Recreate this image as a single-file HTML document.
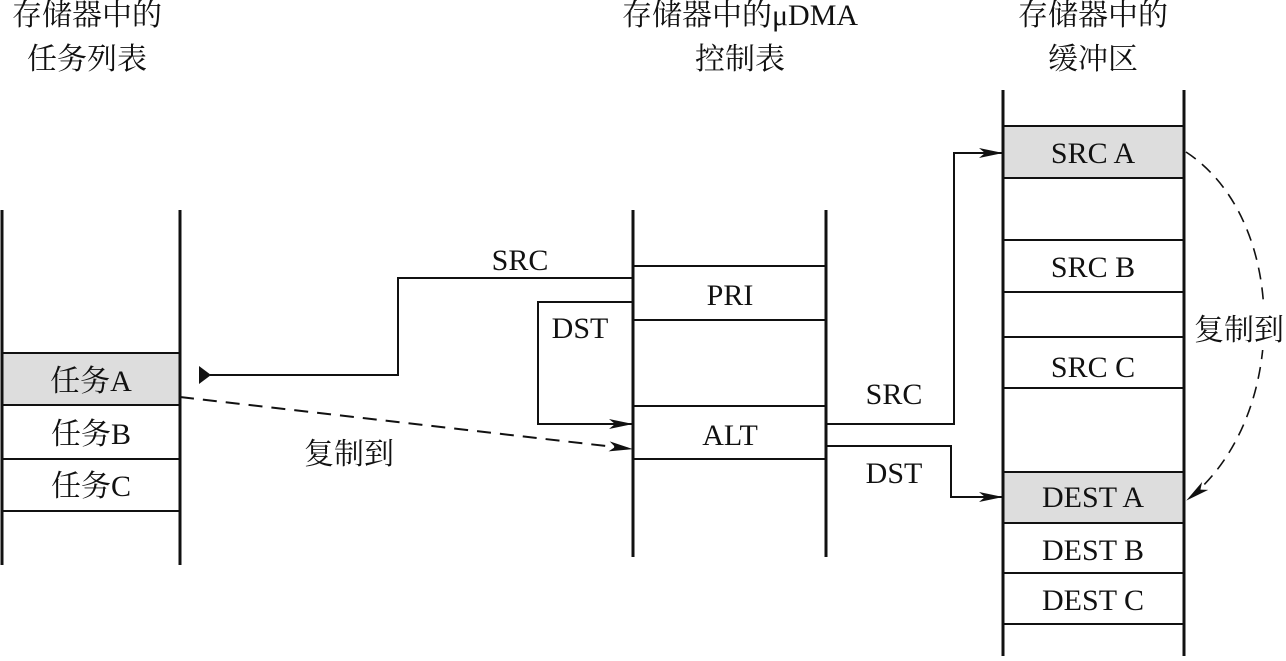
<!DOCTYPE html>
<html><head><meta charset="utf-8"><style>
body{margin:0;background:#fff;}
svg text{font-family:"Liberation Serif","Noto Serif CJK SC",serif;font-size:30px;fill:#111;}
</style></head><body>
<svg width="1286" height="656" viewBox="0 0 1286 656" xmlns="http://www.w3.org/2000/svg">
<defs>
<marker id="a" markerWidth="24" markerHeight="12" refX="23" refY="6" orient="auto" markerUnits="userSpaceOnUse">
<path d="M0,1 L24,6 L0,11 L6,6 Z" fill="#111"/></marker>
</defs>
<g stroke="#111" fill="none">
<rect x="2" y="353" width="178" height="52" fill="#ddd" stroke="none"/>
<line x1="2" y1="210" x2="2" y2="565" stroke-width="3"/>
<line x1="180" y1="210" x2="180" y2="565" stroke-width="3"/>
<g stroke-width="2"><line x1="2" y1="353" x2="180" y2="353"/><line x1="2" y1="405" x2="180" y2="405"/><line x1="2" y1="459" x2="180" y2="459"/><line x1="2" y1="511" x2="180" y2="511"/></g>
<line x1="633" y1="210" x2="633" y2="557" stroke-width="3"/>
<line x1="826" y1="210" x2="826" y2="557" stroke-width="3"/>
<g stroke-width="2"><line x1="633" y1="266" x2="826" y2="266"/><line x1="633" y1="320" x2="826" y2="320"/><line x1="633" y1="406" x2="826" y2="406"/><line x1="633" y1="459" x2="826" y2="459"/></g>
<rect x="1003" y="126" width="181" height="52" fill="#ddd" stroke="none"/>
<rect x="1003" y="472" width="181" height="51" fill="#ddd" stroke="none"/>
<line x1="1003" y1="90" x2="1003" y2="656" stroke-width="3"/>
<line x1="1184" y1="90" x2="1184" y2="656" stroke-width="3"/>
<g stroke-width="2">
<line x1="1003" y1="126" x2="1184" y2="126"/><line x1="1003" y1="178" x2="1184" y2="178"/>
<line x1="1003" y1="240" x2="1184" y2="240"/><line x1="1003" y1="292" x2="1184" y2="292"/>
<line x1="1003" y1="337" x2="1184" y2="337"/><line x1="1003" y1="388" x2="1184" y2="388"/>
<line x1="1003" y1="472" x2="1184" y2="472"/><line x1="1003" y1="523" x2="1184" y2="523"/>
<line x1="1003" y1="573" x2="1184" y2="573"/><line x1="1003" y1="624" x2="1184" y2="624"/>
</g>
<polyline points="633,278 398,278 398,375 210,375" stroke-width="2"/>
<path d="M199,366 L211,375 L199,384 Z" fill="#111" stroke="none"/>
<polyline points="633,302 538,302 538,424 632,424" stroke-width="2" marker-end="url(#a)"/>
<line x1="180" y1="397" x2="632" y2="449" stroke-width="2" stroke-dasharray="14,9" marker-end="url(#a)"/>
<polyline points="826,424 954,424 954,153 1002,153" stroke-width="2" marker-end="url(#a)"/>
<polyline points="826,446 951,446 951,497 1002,497" stroke-width="2" marker-end="url(#a)"/>
<path d="M1186,152 C1290,220 1290,420 1187,500" stroke-width="1.6" stroke-dasharray="12,8" marker-end="url(#a)"/>
</g>
<rect x="1192" y="306" width="94" height="44" fill="#fff"/>
<g text-anchor="middle">
<text x="87" y="25">存储器中的</text><text x="87" y="69">任务列表</text>
<text x="740" y="25">存储器中的μDMA</text><text x="740" y="69">控制表</text>
<text x="1093" y="25">存储器中的</text><text x="1093" y="69">缓冲区</text>
<text x="91" y="391">任务A</text><text x="91" y="444">任务B</text><text x="91" y="496">任务C</text>
<text x="730" y="305">PRI</text><text x="730" y="445">ALT</text>
<text x="1093" y="163">SRC A</text><text x="1093" y="277">SRC B</text><text x="1093" y="377">SRC C</text>
<text x="1093" y="507">DEST A</text><text x="1093" y="560">DEST B</text><text x="1093" y="610">DEST C</text>
<text x="520" y="270">SRC</text><text x="580" y="338">DST</text>
<text x="349" y="464">复制到</text>
<text x="894" y="404">SRC</text><text x="894" y="483">DST</text>
<text x="1239" y="340">复制到</text>
</g>
</svg>
</body></html>
